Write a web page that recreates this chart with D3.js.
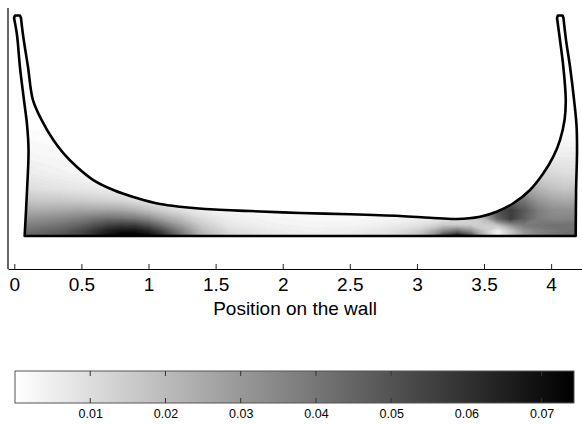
<!DOCTYPE html>
<html>
<head>
<meta charset="utf-8">
<script src="https://cdn.jsdelivr.net/npm/d3@7"></script>
<style>
  html, body { margin: 0; padding: 0; background: #fff; }
  svg { display: block; font-family: "Liberation Sans", Arial, Helvetica, sans-serif; }
</style>
</head>
<body>
<svg id="chart" width="582" height="424"></svg>
<script>
// ---- axis and colour-bar labels ----
const xTicks = [0, 0.5, 1, 1.5, 2, 2.5, 3, 3.5, 4];
const colorTicks = [0.01, 0.02, 0.03, 0.04, 0.05, 0.06, 0.07];
const colorMax = 0.0743;
const xLabel = "Position on the wall";

// ---- sampling grid of the field (position along wall, height above base) ----
const gridX = [0.08, 0.2, 0.35, 0.5, 0.6, 0.7, 0.8, 0.9, 1.0, 1.1, 1.25, 1.4, 1.6, 1.9, 2.2,
               2.5, 2.8, 3.0, 3.1, 3.2, 3.3, 3.4, 3.5, 3.6, 3.7, 3.8, 3.9, 4.0, 4.1, 4.2];
const gridY = [0, 0.04, 0.08, 0.13, 0.19, 0.26, 0.35, 0.46, 0.6, 0.8];

// field values in units of 1e-3, one row per gridY entry (bottom row first)
const fieldRows = [
  [45, 47, 50, 56, 63, 70, 74, 74, 71, 62, 42, 22, 12, 7, 5, 6, 10, 18, 30, 52, 66, 52, 22, 2, 16, 30, 36, 40, 42, 44],
  [41, 43, 46, 52, 58, 64, 67, 67, 62, 52, 35, 19, 10, 6, 4, 5, 8, 13, 20, 32, 38, 30, 16, 4, 16, 30, 36, 39, 41, 42],
  [37, 38, 41, 45, 50, 54, 56, 55, 49, 40, 27, 15, 7, 4, 3, 3, 5, 8, 11, 15, 15, 14, 14, 16, 30, 38, 40, 41, 41, 41],
  [31, 32, 34, 37, 39, 41, 40, 38, 33, 26, 18, 10, 5, 3, 2, 2, 3, 4, 5, 7, 8, 12, 20, 44, 56, 46, 38, 35, 35, 36],
  [24, 24, 25, 26, 26, 26, 25, 22, 18, 14, 9, 5, 3, 1, 1, 1, 1, 2, 2, 3, 5, 10, 30, 50, 56, 48, 38, 33, 32, 33],
  [17, 16, 16, 15, 14, 13, 12, 10, 8, 6, 4, 2, 1, 0, 0, 0, 0, 1, 1, 2, 3, 8, 20, 38, 44, 40, 31, 27, 25, 26],
  [10, 9, 8, 7, 6, 5, 4, 3, 2, 1, 1, 0, 0, 0, 0, 0, 0, 0, 0, 1, 2, 5, 12, 20, 26, 25, 22, 18, 16, 17],
  [6, 5, 4, 3, 2, 1.5, 1, 1, 0, 0, 0, 0, 0, 0, 0, 0, 0, 0, 0, 0, 1, 2, 5, 8, 10, 12, 12, 12, 10, 10],
  [3, 2.5, 2, 1.5, 1, 0.5, 0, 0, 0, 0, 0, 0, 0, 0, 0, 0, 0, 0, 0, 0, 0, 1, 2, 3, 4, 5, 5, 5, 5, 5],
  [0.5, 0.3, 0.2, 0, 0, 0, 0, 0, 0, 0, 0, 0, 0, 0, 0, 0, 0, 0, 0, 0, 0, 0, 0, 0, 0, 0, 0, 0, 0.3, 0.3]
];

// ---- outline of the wall section (x = position, y = height) ----
const leftOuterWall = [[0.077, 0], [0.095, 0.343], [0.106, 0.641], [0.095, 0.827],
                       [0.072, 1.013], [0.042, 1.259], [0.020, 1.498], [-0.002, 1.624]];
const leftCap = [[-0.002, 1.624], [0.005, 1.643], [0.042, 1.643], [0.050, 1.624]];
const innerSurface = [[0.050, 1.624], [0.065, 1.498], [0.102, 1.259], [0.139, 1.013],
  [0.204, 0.864], [0.291, 0.715], [0.365, 0.618], [0.465, 0.516], [0.589, 0.417],
  [0.738, 0.343], [0.912, 0.283], [1.086, 0.238], [1.235, 0.218], [1.495, 0.197],
  [1.756, 0.186], [2.129, 0.171], [2.501, 0.162], [2.874, 0.149], [3.098, 0.136],
  [3.297, 0.127], [3.470, 0.144], [3.594, 0.181], [3.718, 0.244], [3.843, 0.343],
  [3.942, 0.467], [4.016, 0.591], [4.066, 0.715], [4.100, 0.864], [4.109, 1.013],
  [4.091, 1.259], [4.066, 1.460], [4.044, 1.624]];
const rightCap = [[4.044, 1.624], [4.050, 1.643], [4.085, 1.643], [4.092, 1.624]];
const rightOuterWall = [[4.092, 1.624], [4.111, 1.460], [4.141, 1.259], [4.171, 1.013],
                        [4.189, 0.827], [4.193, 0.641], [4.186, 0.343], [4.183, 0]];
const baseLine = [[4.183, 0], [0.077, 0]];

// ---- scales ----
const svg = d3.select("#chart");
const x = d3.scaleLinear().domain([-0.047, 4.230]).range([8, 582]);
const y = d3.scaleLinear().domain([-0.246, 1.699]).range([269, 8]);
const color = d3.scaleLinear().domain([0, colorMax]).range(["#ffffff", "#000000"]);
const cbX = d3.scaleLinear().domain([0, colorMax]).range([15, 574]);

// ---- outline path ----
const smooth = d3.line().x(d => x(d[0])).y(d => y(d[1])).curve(d3.curveCatmullRom.alpha(0.5));
const straight = d3.line().x(d => x(d[0])).y(d => y(d[1]));
const join = s => s.replace(/^M/, "L");
const outlineD = smooth(leftOuterWall) + join(straight(leftCap)) + join(smooth(innerSurface)) +
                 join(straight(rightCap)) + join(smooth(rightOuterWall)) + join(straight(baseLine)) + "Z";

svg.append("clipPath").attr("id", "wallClip").append("path").attr("d", outlineD);

// ---- field as filled contours on the sampling grid ----
const nx = gridX.length, ny = gridY.length;
const values = [];
for (let j = 0; j < ny; j++) for (let i = 0; i < nx; i++) values.push(fieldRows[j][i] * 1e-3);

const step = 0.001;
const thresholds = d3.range(0.0005, colorMax, step);
const contours = d3.contours().size([nx, ny]).thresholds(thresholds).smooth(true)(values);

function along(arr, t) {
  t = Math.max(0, Math.min(arr.length - 1, t));
  const i = Math.min(arr.length - 2, Math.floor(t));
  return arr[i] + (arr[i + 1] - arr[i]) * (t - i);
}
const gridProjection = d3.geoTransform({
  point(u, v) { this.stream.point(x(along(gridX, u - 0.5)), y(along(gridY, v - 0.5))); }
});
const gridPath = d3.geoPath(gridProjection);

const fieldG = svg.append("g").attr("clip-path", "url(#wallClip)");
fieldG.selectAll("path")
  .data(contours)
  .join("path")
  .attr("d", gridPath)
  .attr("fill", d => color(Math.min(colorMax, d.value + step / 2)))
  .attr("stroke", d => color(Math.min(colorMax, d.value + step / 2)))
  .attr("stroke-width", 0.4);

// ---- outline stroke ----
svg.append("path").attr("d", outlineD)
  .attr("fill", "none").attr("stroke", "#000").attr("stroke-width", 2.6)
  .attr("stroke-linejoin", "round");

// ---- axes ----
const xAxis = d3.axisBottom(x).tickValues(xTicks).tickSizeInner(-5).tickSizeOuter(0)
  .tickPadding(9).tickFormat(d3.format("~g"));
const gx = svg.append("g").attr("transform", `translate(0,${y.range()[0]})`).call(xAxis);
gx.select(".domain").attr("stroke", "#000").attr("stroke-width", 1.2);
gx.selectAll(".tick line").attr("stroke", "#222");
gx.selectAll(".tick text").attr("font-size", 19).attr("fill", "#000")
  .attr("font-family", "'Liberation Sans', Arial, sans-serif");

svg.append("line")
  .attr("x1", x.range()[0]).attr("x2", x.range()[0])
  .attr("y1", y.range()[1]).attr("y2", y.range()[0])
  .attr("stroke", "#000").attr("stroke-width", 1.2);

svg.append("text")
  .attr("x", 295).attr("y", 315)
  .attr("text-anchor", "middle").attr("font-size", 19).attr("fill", "#000")
  .text(xLabel);

// ---- colour bar ----
const defs = svg.append("defs");
const grad = defs.append("linearGradient").attr("id", "cbGrad")
  .attr("x1", "0%").attr("x2", "100%").attr("y1", "0%").attr("y2", "0%");
grad.selectAll("stop").data(d3.range(0, 1.0001, 0.1)).join("stop")
  .attr("offset", d => `${d * 100}%`)
  .attr("stop-color", d => color(d * colorMax));

const cbTop = 371, cbBottom = 403;
svg.append("rect")
  .attr("x", cbX(0)).attr("y", cbTop)
  .attr("width", cbX(colorMax) - cbX(0)).attr("height", cbBottom - cbTop)
  .attr("fill", "url(#cbGrad)").attr("stroke", "#555").attr("stroke-width", 1);

const cbTicks = svg.append("g");
cbTicks.selectAll("line.top").data(colorTicks).join("line").attr("class", "top")
  .attr("x1", d => cbX(d)).attr("x2", d => cbX(d))
  .attr("y1", cbTop).attr("y2", cbTop + 5).attr("stroke", "#333");
cbTicks.selectAll("line.bot").data(colorTicks).join("line").attr("class", "bot")
  .attr("x1", d => cbX(d)).attr("x2", d => cbX(d))
  .attr("y1", cbBottom - 5).attr("y2", cbBottom).attr("stroke", "#333");

const cbAxis = d3.axisBottom(cbX).tickValues(colorTicks).tickSize(0).tickPadding(6)
  .tickFormat(d3.format(".2f"));
const gcb = svg.append("g").attr("transform", `translate(0,${cbBottom})`).call(cbAxis);
gcb.select(".domain").remove();
gcb.selectAll(".tick text").attr("font-size", 12.5).attr("fill", "#000")
  .attr("font-family", "'Liberation Sans', Arial, sans-serif");
</script>
</body>
</html>
